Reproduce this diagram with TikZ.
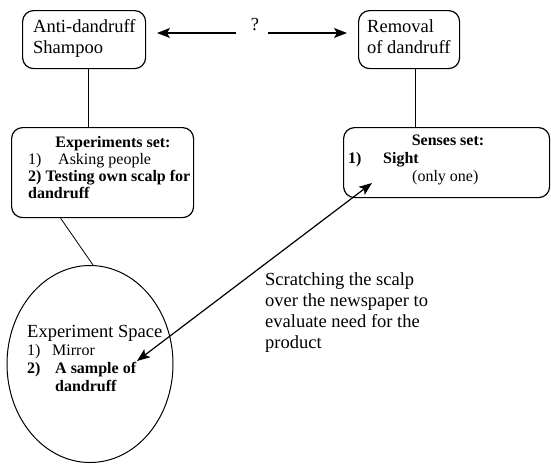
\documentclass[tikz,border=0pt]{standalone}
\usepackage{fontspec}
\setmainfont{Liberation Serif}
\usetikzlibrary{arrows.meta,shapes.geometric}
\begin{document}
\begin{tikzpicture}[x=1pt,y=-1pt,
  box/.style={draw,line width=1.2pt,rounded corners=11pt,anchor=north west,inner sep=0pt},
  big/.style={font=\fontsize{18.5}{21}\selectfont,inner sep=0pt,anchor=base west},
  sm/.style={font=\fontsize{16}{17}\selectfont,inner sep=0pt,anchor=base west},
  smb/.style={font=\bfseries\fontsize{16}{17}\selectfont,inner sep=0pt,anchor=base west},
  conn/.style={line width=0.8pt},
  arr/.style={line width=1.2pt,-{Stealth[length=13pt,width=10pt,inset=3pt]}},
  darr/.style={line width=1.2pt,{Stealth[length=13pt,width=10pt,inset=3pt]}-{Stealth[length=13pt,width=10pt,inset=3pt]}}
]
\useasboundingbox (0,0) rectangle (551,466);

% boxes
\node[box,minimum width=123pt,minimum height=58pt] (sham) at (22,10) {};
\node[box,minimum width=101pt,minimum height=58pt] (rem) at (358,10) {};
\node[box,minimum width=182pt,minimum height=90pt] (exper) at (11,127) {};
\node[box,minimum width=206pt,minimum height=70pt] (sen) at (343,127) {};
\node[draw,ellipse,line width=1pt,minimum width=166pt,minimum height=197pt,inner sep=0pt] (ell) at (90,364) {};

% box texts
\node[big] (t1) at (33,32) {Anti-dandruff};
\node[big] (t2) at (33,53) {Shampoo};
\node[big] (t3) at (367,32) {Removal};
\node[big] (t4) at (367,53) {of dandruff};
\node[font=\fontsize{18.5}{21}\selectfont,inner sep=0pt,anchor=base] (q) at (255,30) {?};

\node[smb,anchor=base] (e0) at (113,147) {Experiments set:};
\node[sm] (e1a) at (28,164) {1)};
\node[sm] (e1b) at (58,164) {Asking people};
\node[smb] (e2) at (28,181) {2) Testing own scalp for};
\node[smb] (e3) at (28,198) {dandruff};

\node[smb,anchor=base] (s0) at (448,145) {Senses set:};
\node[smb] (s1a) at (348,163) {1)};
\node[smb] (s1b) at (383,163) {Sight};
\node[sm] (s2) at (412,181) {(only one)};

\node[big] (x0) at (27,337) {Experiment Space};
\node[sm] (x1a) at (27,355) {1)};
\node[sm] (x1b) at (52,355) {Mirror};
\node[smb] (x2a) at (27,373) {2)};
\node[smb] (x2b) at (55,373) {A sample of};
\node[smb] (x3) at (55,391) {dandruff};

\node[font=\fontsize{18.5}{21}\selectfont,inner sep=0pt,anchor=north west,align=left] (scr) at (265,272)
  {Scratching the scalp\\over the newspaper to\\evaluate need for the\\product};

% connectors
\coordinate (al) at (157,33);
\coordinate (ar) at (347,33);
\coordinate (qs) at (236,33);
\coordinate (qe) at (268,33);
\draw[arr] (qs) -- (al);
\draw[arr] (qe) -- (ar);

\draw[conn] ([xshift=4pt]sham.south) -- ([xshift=4pt]sham.south |- exper.north);
\draw[conn] ([xshift=6.5pt]rem.south) -- ([xshift=6.5pt]rem.south |- sen.north);
\draw[conn] ([xshift=-42pt]exper.south) -- ([xshift=3pt]ell.north);

\coordinate (dt) at (372,183);
\coordinate (db) at (137,361);
\draw[darr] (db) -- (dt);
\end{tikzpicture}
\end{document}
